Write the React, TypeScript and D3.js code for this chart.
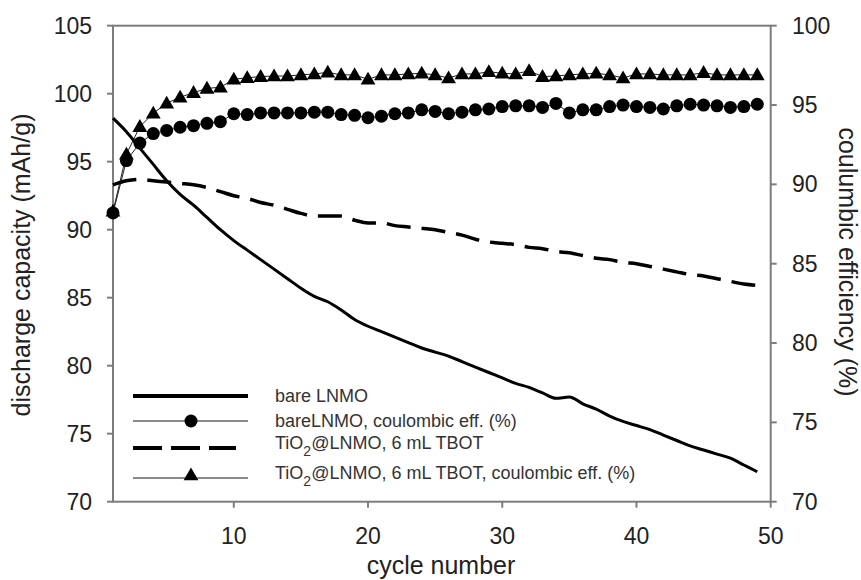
import React from "react";
import * as d3 from "d3";

const cycles: number[] = Array.from({ length: 49 }, (_, i) => i + 1);

const bareCapacity: number[] = [
  98.2, 97.2, 96.0, 94.8, 93.6, 92.6, 91.8, 90.9, 90.0, 89.2,
  88.5, 87.8, 87.1, 86.4, 85.7, 85.1, 84.7, 84.1, 83.4, 82.9,
  82.5, 82.1, 81.7, 81.3, 81.0, 80.7, 80.3, 79.9, 79.5, 79.1,
  78.7, 78.4, 78.0, 77.6, 77.7, 77.2, 76.8, 76.3, 75.9, 75.6,
  75.3, 74.9, 74.5, 74.1, 73.8, 73.5, 73.2, 72.7, 72.2,
];

const tioCapacity: number[] = [
  93.3, 93.6, 93.7, 93.6, 93.5, 93.4, 93.3, 93.1, 92.8, 92.5,
  92.3, 92.0, 91.8, 91.5, 91.2, 91.0, 91.0, 91.0, 90.7, 90.5,
  90.5, 90.3, 90.2, 90.1, 90.0, 89.8, 89.6, 89.3, 89.1, 89.0,
  88.9, 88.7, 88.6, 88.4, 88.3, 88.1, 87.9, 87.8, 87.6, 87.5,
  87.3, 87.1, 86.9, 86.7, 86.6, 86.4, 86.2, 86.0, 85.9,
];

const bareCE: number[] = [
  88.2, 91.5, 92.6, 93.2, 93.4, 93.6, 93.7, 93.85, 93.95, 94.45,
  94.4, 94.5, 94.5, 94.5, 94.5, 94.55, 94.55, 94.4, 94.35, 94.2,
  94.3, 94.45, 94.5, 94.7, 94.6, 94.45, 94.55, 94.7, 94.75, 94.9,
  94.95, 94.95, 94.85, 95.1, 94.5, 94.7, 94.7, 94.9, 95.0, 94.9,
  94.85, 94.75, 94.95, 95.05, 95.0, 94.95, 94.85, 94.9, 95.05,
];

const tioCE: number[] = [
  88.3, 91.9, 93.64, 94.48, 95.11, 95.49, 95.78, 96.05, 96.12, 96.62,
  96.72, 96.79, 96.83, 96.83, 96.9, 96.96, 97.06, 96.9, 96.9, 96.62,
  96.9, 96.9, 96.96, 97.0, 96.9, 96.7, 96.96, 96.96, 97.1, 97.0,
  96.96, 97.16, 96.79, 96.83, 96.9, 96.96, 97.0, 96.9, 96.7, 96.96,
  96.96, 96.9, 96.9, 96.9, 97.04, 96.9, 96.9, 96.9, 96.9,
];

const xTicks: number[] = [10, 20, 30, 40, 50];
const leftTicks: number[] = [70, 75, 80, 85, 90, 95, 100, 105];
const rightTicks: number[] = [70, 75, 80, 85, 90, 95, 100];

const FONT = "'Liberation Sans', Arial, Helvetica, sans-serif";
const AXIS = "#7d7d7d";

export default function App() {
  const W = 861, H = 580;
  const x0 = 113, x1 = 770.7, yTop = 25.7, yBot = 501.7;
  const x = d3.scaleLinear().domain([1, 50]).range([x0, x1]);
  const yL = d3.scaleLinear().domain([70, 105]).range([yBot, yTop]);
  const yR = d3.scaleLinear().domain([70, 100]).range([yBot, yTop]);

  const lineL = d3.line<number>().x((_, i) => x(cycles[i])).y((d) => yL(d)).curve(d3.curveMonotoneX);
  const lineR = d3.line<number>().x((_, i) => x(cycles[i])).y((d) => yR(d));
  const tri = d3.symbol().type(d3.symbolTriangle).size(95)() as string;

  const legendX0 = 133, legendX1 = 248, legendMark = 191, legendText = 275;
  const rows = [396, 421, 448, 478];

  return (
    <svg width={W} height={H} style={{ position: "absolute", left: 0, top: 0, background: "#fff" }}>
      <rect x={0} y={0} width={W} height={H} fill="#fff" />
      {/* frame */}
      <rect x={x0} y={yTop} width={x1 - x0} height={yBot - yTop} fill="none" stroke={AXIS} strokeWidth={2} />
      {/* x ticks */}
      {xTicks.map((t) => (
        <g key={"x" + t}>
          <line x1={x(t)} x2={x(t)} y1={yBot} y2={yBot + 6} stroke={AXIS} strokeWidth={2} />
          <text x={x(t)} y={544} textAnchor="middle" fontFamily={FONT} fontSize={23} fill="#222">{t}</text>
        </g>
      ))}
      {leftTicks.map((t) => (
        <g key={"l" + t}>
          <line x1={x0 - 6} x2={x0} y1={yL(t)} y2={yL(t)} stroke={AXIS} strokeWidth={2} />
          <text x={92} y={yL(t) + 8} textAnchor="end" fontFamily={FONT} fontSize={23} fill="#222">{t}</text>
        </g>
      ))}
      {rightTicks.map((t) => (
        <g key={"r" + t}>
          <line x1={x1} x2={x1 + 6} y1={yR(t)} y2={yR(t)} stroke={AXIS} strokeWidth={2} />
          <text x={792} y={yR(t) + 8} textAnchor="start" fontFamily={FONT} fontSize={23} fill="#222">{t}</text>
        </g>
      ))}
      <text x={441} y={574} textAnchor="middle" fontFamily={FONT} fontSize={25} fill="#222">cycle number</text>
      <text transform={`translate(30,265) rotate(-90)`} textAnchor="middle" fontFamily={FONT} fontSize={25} fill="#222">discharge capacity (mAh/g)</text>
      <text transform={`translate(839,262) rotate(90)`} textAnchor="middle" fontFamily={FONT} fontSize={25} fill="#222">coulumbic efficiency (%)</text>

      {/* coulombic efficiency series */}
      <path d={lineR(bareCE) as string} fill="none" stroke="#222" strokeWidth={1} />
      <path d={lineR(tioCE) as string} fill="none" stroke="#222" strokeWidth={1} />
      {bareCE.map((v, i) => (
        <circle key={"c" + i} cx={x(cycles[i])} cy={yR(v)} r={6.5} fill="#000" />
      ))}
      {tioCE.map((v, i) => (
        <path key={"t" + i} d={tri} transform={`translate(${x(cycles[i])},${yR(v) + 1})`} fill="#000" />
      ))}
      {/* capacity series */}
      <path d={lineL(bareCapacity) as string} fill="none" stroke="#000" strokeWidth={3} />
      <path d={lineL(tioCapacity) as string} fill="none" stroke="#000" strokeWidth={3.5} strokeDasharray="24 11" />

      {/* legend */}
      <line x1={legendX0} x2={legendX1} y1={rows[0]} y2={rows[0]} stroke="#000" strokeWidth={4} />
      <line x1={legendX0} x2={legendX1} y1={rows[1]} y2={rows[1]} stroke="#8a8a8a" strokeWidth={2} />
      <circle cx={legendMark} cy={rows[1]} r={6.5} fill="#000" />
      <line x1={legendX0} x2={236} y1={rows[2]} y2={rows[2]} stroke="#000" strokeWidth={4} strokeDasharray="29 9" />
      <line x1={legendX0} x2={legendX1} y1={rows[3]} y2={rows[3]} stroke="#8a8a8a" strokeWidth={2} />
      <path d={tri} transform={`translate(${legendMark},${rows[3] - 2})`} fill="#000" />
      <g fontFamily={FONT} fontSize={18} fill="#333">
        <text x={legendText} y={rows[0] + 6}>bare LNMO</text>
        <text x={legendText} y={rows[1] + 6}>bareLNMO, coulombic eff. (%)</text>
        <text x={legendText} y={rows[2] + 1}>TiO<tspan fontSize={14} dy={7}>2</tspan><tspan dy={-7}>@LNMO, 6 mL TBOT</tspan></text>
        <text x={legendText} y={rows[3] + 1}>TiO<tspan fontSize={14} dy={7}>2</tspan><tspan dy={-7}>@LNMO, 6 mL TBOT, coulombic eff. (%)</tspan></text>
      </g>
    </svg>
  );
}
